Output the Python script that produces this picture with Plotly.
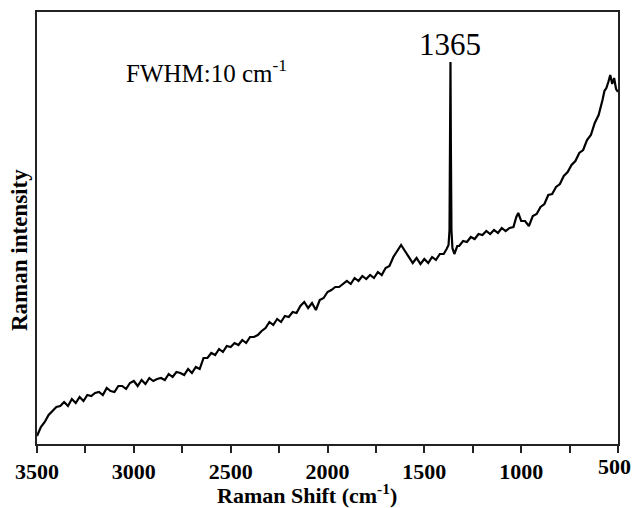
import plotly.graph_objects as go

# Raman shift (cm^-1) and intensity (arb. units)
shift = [3500, 3480, 3460, 3440, 3420, 3400, 3380, 3360, 3340, 3320, 3300, 3280, 3260, 3240, 3220,
         3200, 3180, 3160, 3140, 3120, 3100, 3080, 3060, 3040, 3020, 3000, 2980, 2960, 2940, 2920,
         2900, 2880, 2860, 2840, 2820, 2800, 2780, 2760, 2740, 2720, 2700, 2680, 2660, 2640, 2620,
         2600, 2580, 2560, 2540, 2520, 2500, 2480, 2460, 2440, 2420, 2400, 2380, 2360, 2340, 2320,
         2300, 2280, 2260, 2240, 2220, 2200, 2180, 2160, 2140, 2120, 2100, 2080, 2060, 2040, 2020,
         2000, 1980, 1960, 1940, 1920, 1900, 1880, 1860, 1840, 1820, 1800, 1780, 1760, 1740, 1720,
         1700, 1680, 1660, 1640, 1620, 1600, 1580, 1560, 1540, 1520, 1500, 1480, 1460, 1440, 1420,
         1400, 1385, 1375, 1370, 1367, 1365, 1363, 1360, 1355, 1345, 1330, 1320, 1300, 1280, 1260,
         1240, 1220, 1200, 1180, 1160, 1140, 1120, 1100, 1080, 1060, 1040, 1025, 1015, 1000, 980,
         960, 940, 920, 900, 880, 860, 840, 820, 800, 780, 760, 740, 720, 700, 680,
         660, 640, 620, 600, 590, 580, 570, 560, 550, 540, 530, 520, 510, 500]
intensity = [8, 17, 22, 29, 33, 37, 38, 42, 38, 45, 41, 47, 43, 49, 48,
             51, 52, 49, 56, 53, 52, 58, 58, 55, 61, 63, 58, 64, 60, 66,
             63, 65, 66, 64, 70, 67, 72, 71, 69, 75, 71, 77, 75, 86, 86,
             91, 89, 95, 92, 98, 97, 101, 99, 104, 101, 107, 107, 109, 113, 116,
             122, 119, 125, 122, 128, 127, 132, 131, 138, 142, 136, 141, 134, 144, 146,
             152, 154, 157, 157, 160, 163, 160, 166, 163, 168, 165, 169, 166, 172, 169,
             176, 178, 187, 193, 199, 193, 187, 181, 186, 180, 185, 181, 187, 184, 190,
             190, 195, 199, 214, 300, 382, 300, 214, 196, 190, 198, 198, 203, 202, 207,
             205, 210, 209, 213, 210, 214, 211, 216, 213, 216, 217, 227, 231, 223, 223,
             218, 228, 230, 237, 240, 249, 250, 257, 260, 268, 272, 279, 283, 291, 294,
             304, 309, 321, 329, 336, 344, 353, 356, 362, 369, 360, 366, 355, 352]

x_ticks = [3500, 3000, 2500, 2000, 1500, 1000, 500]
x_tick_labels = ["3500", "3000", "2500", "2000", "1500", "1000", "500"]

peak_pos = 1365
peak_label = "1365"
fwhm_label = "FWHM:10 cm<sup>-1</sup>"
x_title = "<b>Raman Shift (cm<sup>-1</sup>)</b>"
y_title = "<b>Raman intensity</b>"

serif = "Liberation Serif, Times New Roman, serif"

# plot-area geometry in pixels (for placing free text)
L, R, T, B = 37, 618, 12, 444
W, H = R - L, B - T

fig = go.Figure()
fig.add_trace(go.Scatter(x=shift, y=intensity, mode="lines",
                         line=dict(color="black", width=2.2), showlegend=False))

fig.update_layout(
    width=634, height=508,
    margin=dict(l=L, r=634 - R, t=T, b=508 - B),
    paper_bgcolor="white", plot_bgcolor="white",
    font=dict(family=serif, color="black"),
)
# last tick label ("500") sits against the page edge, so it is drawn as an annotation
tick_text = ["<b>%s</b>" % t for t in x_tick_labels[:-1]] + [""]
fig.update_xaxes(
    range=[3500, 500], showline=True, linecolor="#222", linewidth=1.5, mirror=True,
    ticks="outside", ticklen=7, tickwidth=1.5, tickcolor="#222",
    tickvals=x_ticks, ticktext=tick_text,
    tickfont=dict(family=serif, size=22, color="black"),
    minor=dict(dtick=250, tick0=500, ticks="outside", ticklen=7, tickwidth=1.5, tickcolor="#222", showgrid=False),
    showgrid=False, zeroline=False, automargin=False,
)
fig.update_yaxes(
    range=[0, 432], showline=True, linecolor="#222", linewidth=1.5, mirror=True,
    showticklabels=False, ticks="", showgrid=False, zeroline=False, automargin=False,
)
fig.add_annotation(x=x_ticks[-1], y=0, xref="x", yref="paper", text="<b>%s</b>" % x_tick_labels[-1],
                   showarrow=False, font=dict(family=serif, size=22, color="black"),
                   xanchor="right", yanchor="top", xshift=15, yshift=-8)
fig.add_annotation(x=(307 - L) / W, y=(B - 494) / H, xref="paper", yref="paper", text=x_title,
                   showarrow=False, font=dict(family=serif, size=22, color="black"),
                   xanchor="center", yanchor="middle")
fig.add_annotation(x=(19 - L) / W, y=(B - 250) / H, xref="paper", yref="paper", text=y_title,
                   showarrow=False, textangle=-90, font=dict(family=serif, size=23, color="black"),
                   xanchor="center", yanchor="middle")
fig.add_annotation(x=peak_pos, y=(B - 45) / H, xref="x", yref="paper", text=peak_label,
                   showarrow=False, font=dict(family=serif, size=31, color="black"),
                   xanchor="center", yanchor="middle")
fig.add_annotation(x=(124 - L) / W, y=(B - 71) / H, xref="paper", yref="paper", text=fwhm_label,
                   showarrow=False, font=dict(family=serif, size=25, color="black"),
                   xanchor="left", yanchor="middle")

fig.write_html("out.html", config={"displayModeBar": False},
               post_script="document.body.style.margin='0';")
